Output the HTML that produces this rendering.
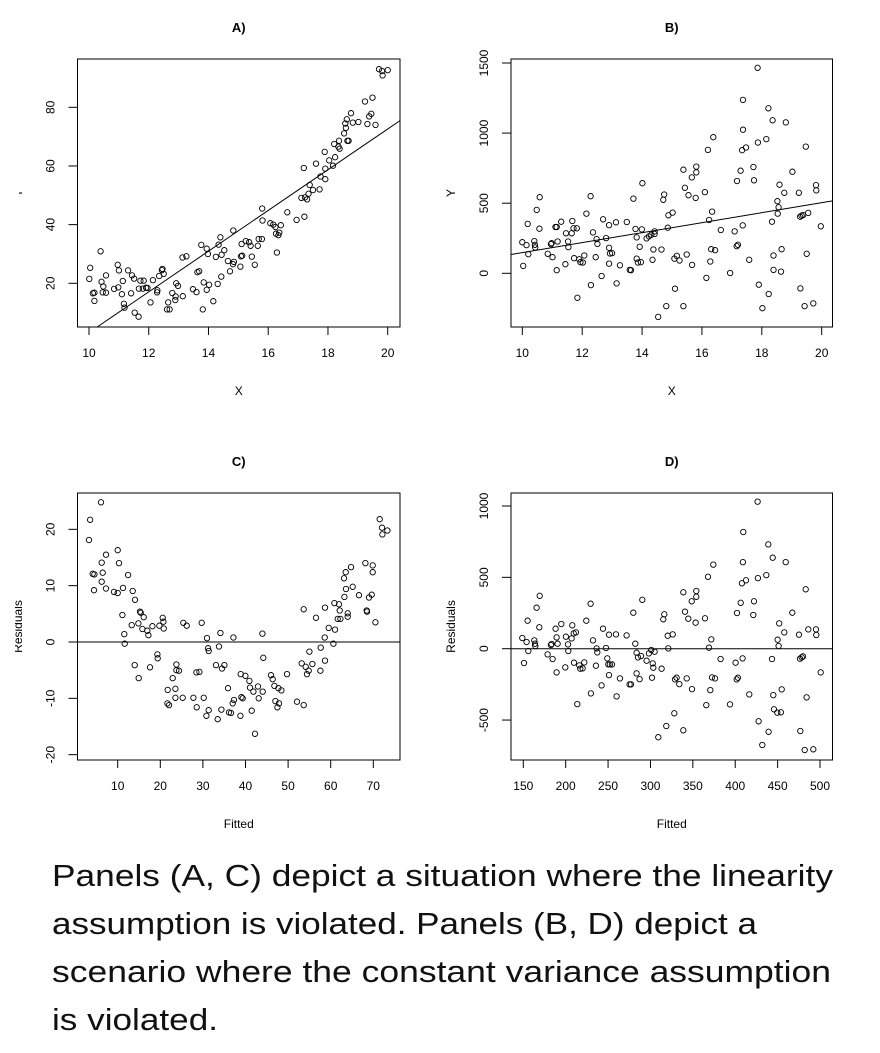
<!DOCTYPE html>
<html><head><meta charset="utf-8">
<style>
html,body{margin:0;padding:0;background:#fff;}
svg{display:block;}
text{font-family:"Liberation Sans",Arial,sans-serif;fill:#000;}
.cap{font-family:"Liberation Sans",sans-serif;font-size:31px;fill:#111;}
</style></head>
<body>
<svg id="fig" width="880" height="1053" viewBox="0 0 880 1053" xmlns="http://www.w3.org/2000/svg">
<g id="plots"></g>
<text class="cap" x="52" y="886" textLength="781" lengthAdjust="spacingAndGlyphs">Panels (A, C) depict a situation where the linearity</text>
<text class="cap" x="52" y="934" textLength="705" lengthAdjust="spacingAndGlyphs">assumption is violated. Panels (B, D) depict a</text>
<text class="cap" x="52" y="982" textLength="779" lengthAdjust="spacingAndGlyphs">scenario where the constant variance assumption</text>
<text class="cap" x="52" y="1030" textLength="166" lengthAdjust="spacingAndGlyphs">is violated.</text>
</svg>
<script>
// Panel A data
const aX=[10.01,10.04,10.13,10.18,10.18,10.39,10.42,10.46,10.48,10.57,10.57,10.84,10.96,10.98,11.0,11.10,11.13,11.17,11.19,11.31,11.41,11.44,11.51,11.53,11.66,11.67,11.72,11.80,11.83,11.91,11.96,12.06,12.14,12.28,12.29,12.35,12.44,12.46,12.50,12.61,12.65,12.70,12.79,12.89,12.90,12.92,12.98,13.14,13.13,13.26,13.48,13.60,13.63,13.69,13.76,13.81,13.84,13.94,13.94,13.98,14.02,14.16,14.25,14.31,14.34,14.40,14.43,14.44,14.53,14.65,14.72,14.82,14.83,14.85,15.07,15.09,15.11,15.13,15.25,15.36,15.41,15.45,15.55,15.65,15.68,15.79,15.80,15.81,16.07,16.17,16.24,16.26,16.29,16.34,16.37,16.42,16.64,16.95,17.19,17.21,17.11,17.23,17.30,17.35,17.39,17.50,17.60,17.72,17.75,17.89,17.91,17.91,18.04,18.17,18.24,18.21,18.35,18.37,18.39,18.54,18.58,18.60,18.63,18.65,18.69,18.77,18.83,19.02,19.24,19.32,19.38,19.45,19.49,19.59,19.71,19.81,19.83,20.0];
const aY=[21.5,25.3,16.6,14.0,16.8,30.9,20.5,16.9,18.9,22.7,16.8,18.1,26.3,18.6,24.4,16.3,20.8,13.0,11.7,24.4,16.6,22.7,21.6,10.0,8.6,18.2,20.9,18.2,20.9,18.5,18.4,13.5,21.1,16.9,17.6,22.5,24.5,24.9,23.2,11.1,13.5,11.1,16.7,14.3,15.5,20.0,19.1,15.6,28.8,29.2,18.0,17.0,23.8,24.1,33.1,11.1,20.3,31.8,17.8,30.0,19.5,13.9,29.0,19.8,33.2,35.7,22.3,29.7,31.3,27.6,24.1,26.5,38.0,27.3,25.7,29.2,33.4,29.4,34.4,34.0,32.8,29.1,26.3,32.8,35.1,35.1,45.5,41.4,40.5,40.0,39.2,36.9,30.5,36.4,37.3,39.8,44.2,41.6,59.3,42.7,49.1,49.3,48.6,50.5,53.5,51.8,60.8,52.0,56.4,64.8,59.1,55.5,61.9,60.1,63.0,67.5,66.6,68.6,65.9,71.1,74.5,73.0,75.9,68.6,68.6,78.0,74.8,75.0,82.0,74.3,76.9,77.8,83.3,74.0,93.0,92.4,90.9,92.7];
const aFit=[-66.2,6.94]; // intercept, slope
// Panel B data
const bX=[10.00,10.03,10.14,10.18,10.20,10.40,10.42,10.43,10.48,10.57,10.58,10.85,10.96,10.98,11.01,11.11,11.15,11.15,11.18,11.30,11.44,11.46,11.53,11.54,11.65,11.67,11.71,11.73,11.82,11.84,11.90,11.94,12.02,12.07,12.14,12.28,12.29,12.36,12.45,12.48,12.51,12.65,12.70,12.80,12.90,12.90,12.90,12.93,13.00,13.13,13.15,13.26,13.49,13.59,13.63,13.71,13.78,13.82,13.82,13.86,13.92,13.96,13.99,14.01,14.15,14.23,14.31,14.35,14.38,14.42,14.42,14.54,14.65,14.71,14.74,14.81,14.86,14.88,15.02,15.08,15.10,15.16,15.25,15.38,15.38,15.43,15.49,15.55,15.66,15.67,15.79,15.81,15.81,16.10,16.15,16.20,16.24,16.28,16.31,16.34,16.38,16.44,16.63,16.94,17.09,17.16,17.17,17.20,17.29,17.34,17.36,17.37,17.37,17.47,17.58,17.72,17.74,17.87,17.90,18.02,18.15,18.22,18.23,18.34,18.36,18.39,18.39,18.52,18.53,18.56,18.59,18.64,18.66,18.75,18.80,19.02,19.24,19.28,19.29,19.33,19.38,19.43,19.47,19.50,19.55,19.72,19.81,19.82,19.97,17.86];
const bY=[222,53,201,352,136,230,203,184,452,318,543,139,208,215,115,330,330,22,227,368,65,285,227,187,285,373,321,108,321,-175,100,79,77,127,426,550,-84,292,115,244,210,-19,385,251,344,182,69,141,144,364,-72,57,366,24,22,533,316,256,105,77,189,79,313,643,249,263,275,96,170,299,280,-311,170,524,562,-234,325,414,433,105,-110,124,91,-234,739,610,134,557,684,60,538,761,720,579,-33,880,380,84,172,440,971,165,309,2,299,194,658,203,732,878,342,1024,1237,897,96,758,663,933,-81,-249,957,1177,-148,368,1091,127,24,514,426,471,632,12,172,574,1076,725,574,404,-108,411,416,-234,904,139,431,-215,629,591,335,1466];
const bFit=[-208.5,35.6];
// Panel C data
const cX=[3.27,3.51,6.09,4.13,4.52,4.44,6.24,6.48,6.24,7.26,7.26,10.0,10.31,9.14,10.0,11.25,12.43,13.52,14.07,11.10,11.56,11.64,13.29,15.24,15.40,16.10,14.85,15.79,16.96,17.20,18.14,19.78,20.56,20.72,20.80,13.99,14.93,17.59,19.31,19.39,21.74,21.66,22.05,22.91,23.54,23.54,23.77,23.77,24.40,25.26,25.41,26.20,27.76,28.47,28.54,29.17,29.72,30.19,30.81,30.97,31.21,31.36,31.36,33.08,33.47,33.79,34.10,34.34,34.49,35.04,35.90,36.13,36.60,36.99,37.31,37.15,38.80,38.87,39.03,39.34,39.97,40.91,41.06,41.46,41.85,42.24,42.94,43.10,43.96,44.04,44.19,45.99,46.39,46.78,47.01,47.48,47.72,47.87,48.42,49.75,52.10,53.19,53.66,53.66,54.13,54.44,54.84,54.99,55.70,56.56,57.58,57.66,58.67,58.67,58.59,59.53,60.63,61.02,60.86,61.96,62.11,61.64,62.27,63.21,63.13,63.60,63.52,63.99,63.99,64.77,65.16,66.65,68.14,68.45,68.53,69.00,69.62,69.86,69.86,70.49,71.50,72.05,72.13,73.30];
const cY=[18.1,21.7,24.8,12.1,12.0,9.2,14.1,12.3,10.7,15.5,9.5,16.3,14.0,8.9,8.7,9.6,11.9,9.05,7.5,4.8,1.4,-0.3,3.0,5.4,5.2,4.4,3.3,2.3,2.0,1.2,2.8,2.9,4.3,3.6,2.4,-4.1,-6.4,-4.5,-2.2,-2.9,-8.5,-10.9,-11.2,-6.4,-8.3,-9.9,-4.0,-5.0,-5.1,-9.9,3.4,2.9,-9.9,-5.4,-11.6,-5.3,3.4,-9.9,-13.1,0.7,-1.1,-1.6,-12.1,-4.1,-13.7,-0.8,1.6,-12.0,-4.7,-4.1,-8.2,-12.5,-12.6,-10.9,-10.3,0.8,-13.1,-5.7,-9.8,-10.0,-6.0,-6.9,-8.1,-12.2,-8.8,-16.3,-7.9,-10.0,1.5,-8.8,-2.8,-5.9,-6.6,-7.8,-10.5,-11.6,-8.2,-10.9,-8.6,-5.7,-10.6,-3.8,-11.2,5.8,-4.4,-5.7,-5.1,-1.7,-3.9,4.3,-5.1,-1.0,-3.3,6.1,0.8,2.5,-0.3,2.2,6.9,6.7,5.6,4.1,4.1,8.0,11.3,9.4,12.4,5.1,4.5,13.3,9.8,8.3,14.0,5.6,5.4,7.9,8.4,12.4,13.6,3.5,21.8,20.3,19.1,19.8];
// Panel D data
const dX=[148.8,150.8,153.9,155.1,155.9,163.0,163.8,164.2,165.7,168.9,169.3,178.7,182.6,183.4,184.6,188.1,189.3,189.3,190.5,194.8,199.5,200.3,202.7,203.1,207.0,207.8,209.4,209.8,212.1,213.7,216.1,217.2,220.0,222.0,224.3,229.4,229.8,232.2,235.7,236.5,237.3,242.4,244.0,247.5,251.1,249.1,250.3,251.1,252.2,254.6,259.3,260.1,264.0,271.9,275.4,277.0,279.8,282.1,283.7,283.7,285.3,287.2,288.8,290.4,295.5,298.2,301.0,301.8,302.6,303.4,304.9,309.3,313.2,315.2,316.3,318.7,320.3,321.1,326.2,328.1,328.9,330.9,334.0,338.8,338.8,340.7,342.7,344.7,348.6,349.0,353.3,354.1,354.1,364.3,365.9,367.9,369.1,370.6,371.8,372.6,374.1,376.1,382.8,393.8,400.5,401.7,402.1,403.2,406.4,407.9,408.7,409.1,409.5,412.7,416.6,421.3,422.1,426.8,427.6,431.9,436.7,439.0,439.4,443.4,444.2,444.9,445.7,449.6,450.0,451.2,451.9,453.9,454.8,457.9,459.5,467.3,475.2,476.4,476.8,478.4,479.9,481.9,483.1,484.2,486.2,492.1,495.3,495.7,500.8,426.4];
const dY=[75,-100,47,196,-16,58,35,19,287,150,371,-40,26,33,-72,140,79,-166,35,173,-131,84,30,-16,72,164,107,-98,114,-388,-117,-140,-138,-96,196,315,-313,58,-119,2,-26,-257,140,5,98,-68,-110,-185,-110,-110,100,-334,-208,93,-250,-250,252,35,-173,-28,-61,-213,-51,343,-84,-33,-9,-203,-103,-133,-21,-620,-140,206,241,-542,91,2,100,-453,-215,-203,-248,-572,395,259,-208,210,332,-283,182,364,404,213,-395,504,7,-290,65,-201,589,-208,-72,-390,-98,-215,250,-203,322,458,-68,607,818,479,-320,236,332,495,-509,-675,516,731,-582,-72,638,-325,-425,-448,63,19,177,-446,-285,114,607,252,98,-70,-577,-61,-54,-710,416,-341,135,-705,135,96,-166,1031];
// Tick labels
const aXTicks=[10,12,14,16,18,20];
const aYTicks=[20,40,60,80];
const bXTicks=[10,12,14,16,18,20];
const bYTicks=[0,500,1000,1500];
const cXTicks=[10,20,30,40,50,60,70];
const cYTicks=[-20,-10,0,10,20];
const dXTicks=[150,200,250,300,350,400,450,500];
const dYTicks=[-500,0,500,1000];

const NS='http://www.w3.org/2000/svg';
const root=document.getElementById('plots');
function mk(tag,attrs,parent){const e=document.createElementNS(NS,tag);for(const k in attrs)e.setAttribute(k,attrs[k]);(parent||root).appendChild(e);return e;}

function panel(o){
  const g=mk('g',{});
  
  
  const sx=v=>o.px0+(v-o.x0)*o.kx;
  const sy=v=>o.py0-(v-o.y0)*o.ky;
  for(let i=0;i<o.xs.length;i++){
    const c=mk('circle',{cx:sx(o.xs[i]).toFixed(1),cy:sy(o.ys[i]).toFixed(1),r:2.7,fill:'none',stroke:'#000','stroke-width':0.9},g);
    
    
  }
  let ln;
  if(o.fit){
    const xl=o.x0+(o.L-o.px0)/o.kx, xr=o.x0+(o.R-o.px0)/o.kx;
    let x1=xl,y1=o.fit[0]+o.fit[1]*xl;
    const ybot=o.y0+(o.py0-o.B)/o.ky;
    if(y1<ybot){x1=(ybot-o.fit[0])/o.fit[1];y1=ybot;}
    ln=mk('line',{x1:sx(x1),y1:sy(y1),x2:sx(xr),y2:sy(o.fit[0]+o.fit[1]*xr),stroke:'#000','stroke-width':1},g);
    
  } else {
    ln=mk('line',{x1:o.L,y1:sy(0),x2:o.R,y2:sy(0),stroke:'#000','stroke-width':1},g);
    
  }
  
  const bx=mk('rect',{x:o.L,y:o.T,width:o.R-o.L,height:o.B-o.T,fill:'none',stroke:'#000','stroke-width':1},g);
  
  
  o.xt.forEach(t=>{
    const x=sx(t);
    mk('line',{x1:x,y1:o.B,x2:x,y2:o.B+8,stroke:'#000'},g);
    const tx=mk('text',{x:x,y:o.B+30,'font-size':12,'text-anchor':'middle'},g);
    tx.textContent=t;
    
    
  });
  o.yt.forEach(t=>{
    const y=sy(t);
    mk('line',{x1:o.L-9,y1:y,x2:o.L,y2:y,stroke:'#000'},g);
    const tx=mk('text',{x:0,y:0,'font-size':12,'text-anchor':'middle',transform:`translate(${o.L-23},${y}) rotate(-90)`},g);
    tx.textContent=t;
    
    
  });
  const title=mk('text',{x:(o.L+o.R)/2,y:o.T-27,'font-size':13,'font-weight':'bold','text-anchor':'middle'},g);
  title.textContent=o.title;
  
  
  const xl=mk('text',{x:(o.L+o.R)/2,y:o.B+68,'font-size':12,'text-anchor':'middle'},g);
  xl.textContent=o.xlab;
  
  
  const yl=mk('text',{x:0,y:0,'font-size':12,'text-anchor':'middle',transform:`translate(${o.ylx},${(o.T+o.B)/2}) rotate(-90)`},g);
  yl.textContent=o.ylab;
  
  
}

panel({name:'panel-a',title:'A)',xlab:'X',ylab:'Y',ylx:22,xs:aX,ys:aY,fit:aFit,xt:aXTicks,yt:aYTicks,
  L:77.5,R:400,T:59,B:327,px0:89,x0:10,kx:29.87,py0:283.3,y0:20,ky:2.933});
panel({name:'panel-b',title:'B)',xlab:'X',ylab:'Y',ylx:455,xs:bX,ys:bY,fit:bFit,xt:bXTicks,yt:bYTicks,
  L:511,R:832.5,T:59,B:327,px0:522.3,x0:10,kx:29.94,py0:273.3,y0:0,ky:0.1402});
panel({name:'panel-c',title:'C)',xlab:'Fitted',ylab:'Residuals',ylx:22,xs:cX,ys:cY,fit:null,xt:cXTicks,yt:cYTicks,
  L:77.5,R:400,T:493,B:760,px0:117.7,x0:10,kx:4.26,py0:642,y0:0,ky:5.633});
panel({name:'panel-d',title:'D)',xlab:'Fitted',ylab:'Residuals',ylx:455,xs:dX,ys:dY,fit:null,xt:dXTicks,yt:dYTicks,
  L:511,R:832.5,T:493,B:760,px0:523.3,x0:150,kx:0.8477,py0:648.7,y0:0,ky:0.1427});
const cover=mk('rect',{x:0,y:0,width:19,height:420,fill:'#fff'});


const cover2=mk('rect',{x:0,y:420,width:15,height:420,fill:'#fff'});


</script>
</body></html>
